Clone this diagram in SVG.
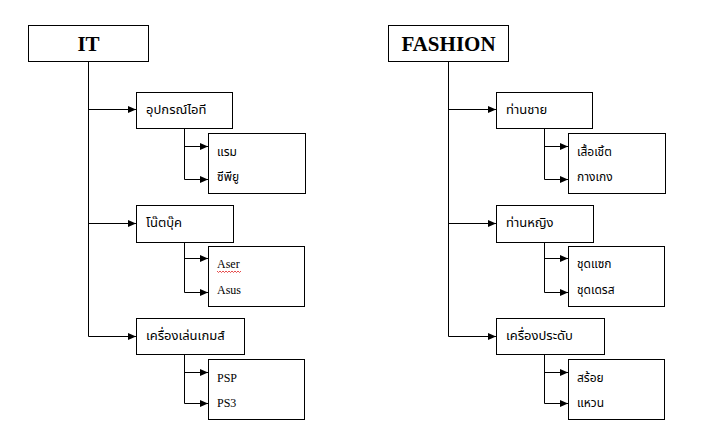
<svg xmlns="http://www.w3.org/2000/svg" width="702" height="428" viewBox="0 0 702 428">
<defs>
<marker id="ah" markerUnits="userSpaceOnUse" markerWidth="9" markerHeight="8" refX="8" refY="3.5" orient="auto">
<path d="M0,0 L8,3.5 L0,7 z" fill="#000"/>
</marker>
<style>
.box{fill:#fff;stroke:#000;stroke-width:1}
.ln{fill:none;stroke:#000;stroke-width:1}
.ar{fill:none;stroke:#000;stroke-width:1;marker-end:url(#ah)}
.title{font-family:"Liberation Serif","Times New Roman",serif;font-weight:bold;font-size:21px;fill:#000}
.th{font-family:"Noto Sans","Noto Sans Thai",sans-serif;font-size:12px;fill:#000}
.th2{font-family:"Noto Sans","Noto Sans Thai",sans-serif;font-size:13px;fill:#000}
.lat{font-family:"Liberation Serif","Times New Roman",serif;font-size:12px;fill:#000}
</style>
</defs>
<rect width="702" height="428" fill="#fff"/>
<g id="connectors">
<path class="ln" d="M88.5,61 V336.5"/>
<path class="ar" d="M88.5,109.5 H136"/>
<path class="ar" d="M88.5,223.5 H136"/>
<path class="ar" d="M88.5,336.5 H136"/>
<path class="ln" d="M184.5,128 V179.5"/>
<path class="ar" d="M184.5,146.5 H208"/>
<path class="ar" d="M184.5,179.5 H208"/>
<path class="ln" d="M184.5,242 V292.5"/>
<path class="ar" d="M184.5,258.5 H208"/>
<path class="ar" d="M184.5,292.5 H208"/>
<path class="ln" d="M184.5,354 V403.5"/>
<path class="ar" d="M184.5,372.5 H208"/>
<path class="ar" d="M184.5,403.5 H208"/>
<path class="ln" d="M448.5,61 V336.5"/>
<path class="ar" d="M448.5,109.5 H496"/>
<path class="ar" d="M448.5,223.5 H496"/>
<path class="ar" d="M448.5,336.5 H496"/>
<path class="ln" d="M544.5,128 V179.5"/>
<path class="ar" d="M544.5,146.5 H568"/>
<path class="ar" d="M544.5,179.5 H568"/>
<path class="ln" d="M544.5,242 V292.5"/>
<path class="ar" d="M544.5,258.5 H568"/>
<path class="ar" d="M544.5,292.5 H568"/>
<path class="ln" d="M544.5,354 V403.5"/>
<path class="ar" d="M544.5,372.5 H568"/>
<path class="ar" d="M544.5,403.5 H568"/>
</g>
<g id="it">
<rect class="box" x="28.5" y="25.5" width="120" height="36"/>
<text class="title" x="88.5" y="50.5" text-anchor="middle">IT</text>
</g>
<g id="it-devices">
<rect class="box" x="136.5" y="92.5" width="96" height="36"/>
<text class="th2" x="146" y="114">อุปกรณ์ไอที</text>
</g>
<g id="it-devices-items">
<rect class="box" x="208.5" y="133.5" width="97" height="60"/>
<text class="th" x="217" y="156">แรม</text>
<text class="th" x="217" y="181">ซีพียู</text>
</g>
<g id="it-notebook">
<rect class="box" x="136.5" y="205.5" width="97" height="37"/>
<text class="th2" x="146" y="227">โน๊ตบุ๊ค</text>
</g>
<g id="it-notebook-items">
<rect class="box" x="208.5" y="246.5" width="96" height="60"/>
<text class="lat" x="217" y="268">Aser</text>
<path d="M217,271 l1.5,1.5 l1.5,-1.5 l1.5,1.5 l1.5,-1.5 l1.5,1.5 l1.5,-1.5 l1.5,1.5 l1.5,-1.5 l1.5,1.5 l1.5,-1.5 l1.5,1.5 l1.5,-1.5 l1.5,1.5 l1.5,-1.5 l1.5,1.5 l1.5,-1.5" fill="none" stroke="#e02020" stroke-width="0.8"/>
<text class="lat" x="217" y="294">Asus</text>
</g>
<g id="it-games">
<rect class="box" x="136.5" y="318.5" width="108" height="36"/>
<text class="th2" x="146" y="340">เครื่องเล่นเกมส์</text>
</g>
<g id="it-games-items">
<rect class="box" x="208.5" y="359.5" width="96" height="60"/>
<text class="lat" x="217" y="382">PSP</text>
<text class="lat" x="217" y="407">PS3</text>
</g>
<g id="fashion">
<rect class="box" x="388.5" y="25.5" width="120" height="36"/>
<text class="title" x="448.5" y="50.5" text-anchor="middle">FASHION</text>
</g>
<g id="fashion-men">
<rect class="box" x="496.5" y="92.5" width="96" height="36"/>
<text class="th2" x="506" y="114">ท่านชาย</text>
</g>
<g id="fashion-men-items">
<rect class="box" x="568.5" y="133.5" width="97" height="60"/>
<text class="th" x="577" y="156">เสื้อเชิ้ต</text>
<text class="th" x="577" y="181">กางเกง</text>
</g>
<g id="fashion-women">
<rect class="box" x="496.5" y="205.5" width="97" height="37"/>
<text class="th2" x="506" y="227">ท่านหญิง</text>
</g>
<g id="fashion-women-items">
<rect class="box" x="568.5" y="246.5" width="96" height="60"/>
<text class="th" x="577" y="268">ชุดแซก</text>
<text class="th" x="577" y="294">ชุดเดรส</text>
</g>
<g id="fashion-accessories">
<rect class="box" x="496.5" y="318.5" width="108" height="36"/>
<text class="th2" x="506" y="340">เครื่องประดับ</text>
</g>
<g id="fashion-accessories-items">
<rect class="box" x="568.5" y="359.5" width="96" height="60"/>
<text class="th" x="577" y="382">สร้อย</text>
<text class="th" x="577" y="407">แหวน</text>
</g>
</svg>
